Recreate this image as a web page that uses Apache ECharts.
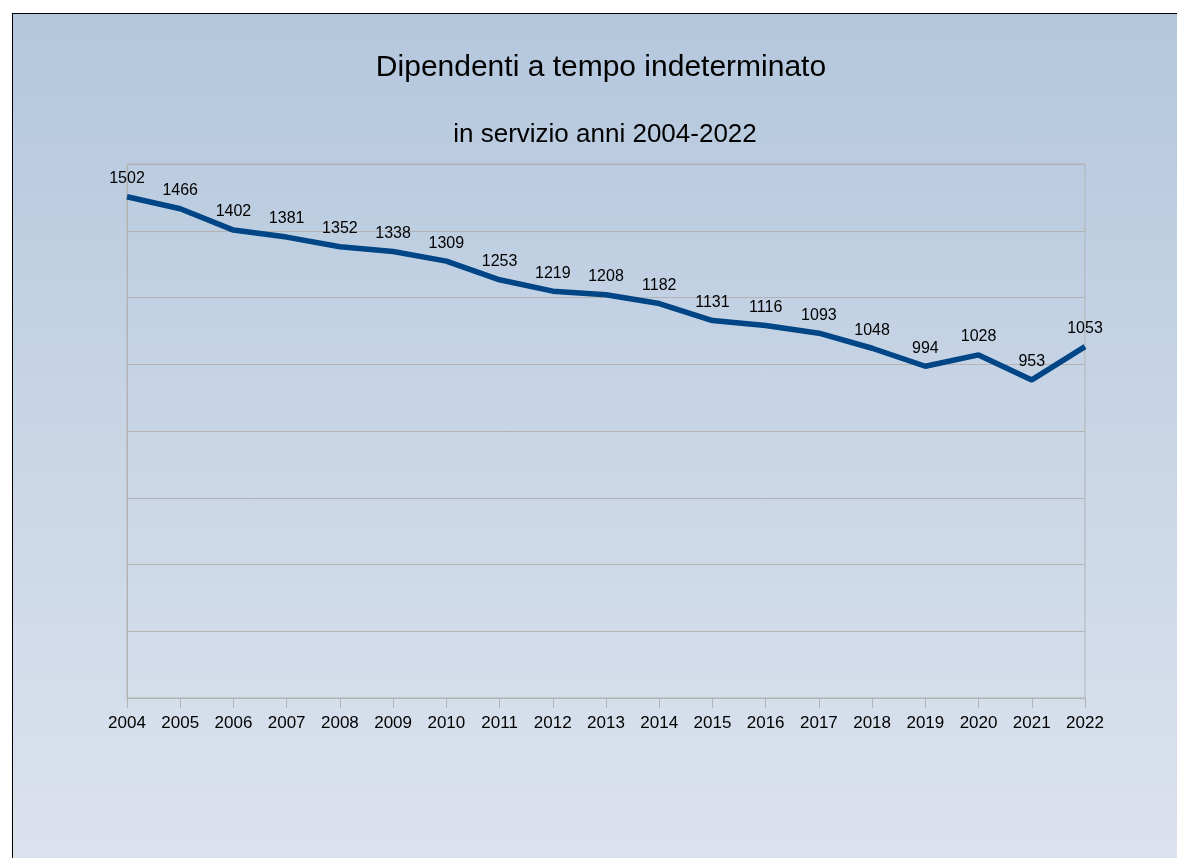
<!DOCTYPE html>
<html>
<head>
<meta charset="utf-8">
<title>Dipendenti a tempo indeterminato</title>
<script src="https://cdn.jsdelivr.net/npm/echarts@6/dist/echarts.min.js"></script>
<style>
  html, body { margin: 0; padding: 0; background: #fff; overflow: hidden; width: 1177px; height: 858px; }
  #main {
    position: absolute; left: 12px; top: 13px;
    width: 1190px; height: 870px;
    border: 1px solid #000;
    background: linear-gradient(to bottom, #b4c7dd 0%, #c9d6e6 50%, #dde3ee 100%);
  }
</style>
</head>
<body>
<div id="main"></div>
<script>
// anni
const years = ['2004', '2005', '2006', '2007', '2008', '2009', '2010', '2011', '2012', '2013',
  '2014', '2015', '2016', '2017', '2018', '2019', '2020', '2021', '2022']
// dipendenti in servizio
const dipendenti = [1502, 1466, 1402, 1381, 1352, 1338, 1309, 1253, 1219, 1208,
  1182, 1131, 1116, 1093, 1048, 994, 1028, 953, 1053]

const chart = echarts.init(document.getElementById('main'))

const option = {
  backgroundColor: 'transparent',
  textStyle: { fontFamily: 'Liberation Sans, Arial, sans-serif' },
  title: [
    {
      text: 'Dipendenti a tempo indeterminato',
      left: 588,
      top: 39,
      padding: 0,
      textAlign: 'center',
      textStyle: { fontSize: 30, fontWeight: 'normal', color: '#000' }
    },
    {
      text: 'in servizio anni 2004-2022',
      left: 592,
      top: 108,
      padding: 0,
      textAlign: 'center',
      textStyle: { fontSize: 26, fontWeight: 'normal', color: '#000' }
    }
  ],
  grid: {
    left: 114,
    top: 150,
    width: 958,
    height: 534,
    show: true,
    borderColor: '#b3b3b3',
    borderWidth: 1,
    backgroundColor: 'transparent'
  },
  xAxis: {
    type: 'category',
    boundaryGap: false, // 点落在刻度上
    data: years,
    axisLine: { lineStyle: { color: '#b3b3b3', width: 1 } },
    axisTick: { show: true, length: 10, alignWithLabel: true, lineStyle: { color: '#b3b3b3' } },
    axisLabel: { color: '#000', fontSize: 17, margin: 17, interval: 0 },
    splitLine: { show: false }
  },
  yAxis: {
    type: 'value',
    min: 0,
    max: 1600,
    interval: 200,
    axisLine: { show: true, lineStyle: { color: '#b3b3b3', width: 1 } },
    axisTick: { show: false },
    axisLabel: { show: false },
    splitLine: { show: true, lineStyle: { color: '#b3b3b3', width: 1 } }
  },
  series: [
    {
      name: 'Dipendenti',
      type: 'line',
      data: dipendenti,
      symbol: 'circle',
      symbolSize: 0,
      showSymbol: true,
      smooth: false,
      lineStyle: { color: '#004586', width: 5.5 },
      itemStyle: { color: '#004586' },
      label: {
        show: true,
        position: 'top',
        distance: 10,
        color: '#000',
        fontSize: 16
      },
      animation: false
    }
  ]
}
chart.setOption(option)
</script>
</body>
</html>
